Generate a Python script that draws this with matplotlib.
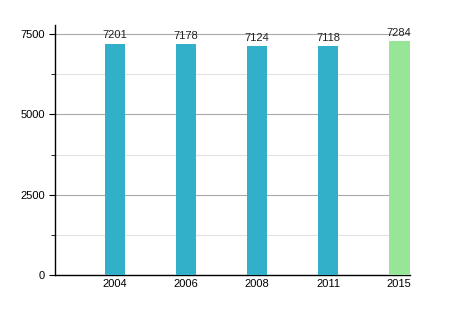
import matplotlib
matplotlib.use("Agg")
import matplotlib.pyplot as plt
from matplotlib.ticker import MultipleLocator

plt.rcParams["font.family"] = ["Liberation Sans", "DejaVu Sans"]

years = ["2004", "2006", "2008", "2011", "2015"]
values = [7201, 7178, 7124, 7118, 7284]
colors = ["#33b0c9", "#33b0c9", "#33b0c9", "#33b0c9", "#97e597"]

fig = plt.figure(figsize=(4.58, 3.10), dpi=100)
ax = fig.add_axes([0.120, 0.113, 0.775, 0.806])

x = list(range(len(years)))
ax.bar(x, values, width=0.29, color=colors, zorder=3)
for xi, v in zip(x, values):
    ax.text(xi, v + 110, str(v), ha="center", va="bottom", fontsize=8,
            color="#222222", zorder=4)

ax.set_xlim(-0.845, 4.15)
ax.set_ylim(0, 7780)
ax.yaxis.set_major_locator(MultipleLocator(2500))
ax.yaxis.set_minor_locator(MultipleLocator(1250))
ax.grid(axis="y", which="major", color="#a8a8a8", linewidth=0.8, zorder=1)
ax.grid(axis="y", which="minor", color="#e2e2e2", linewidth=0.8, zorder=1)
ax.set_xticks(x)
ax.set_xticklabels(years)
ax.tick_params(axis="x", length=0, pad=3, labelsize=8)
ax.tick_params(axis="y", which="major", length=4, labelsize=8, pad=3)
ax.tick_params(axis="y", which="minor", length=3)
for s in ["top", "right"]:
    ax.spines[s].set_visible(False)
ax.spines["left"].set_linewidth(1.0)
ax.spines["bottom"].set_linewidth(1.0)

fig.savefig("out.png", dpi=100)
